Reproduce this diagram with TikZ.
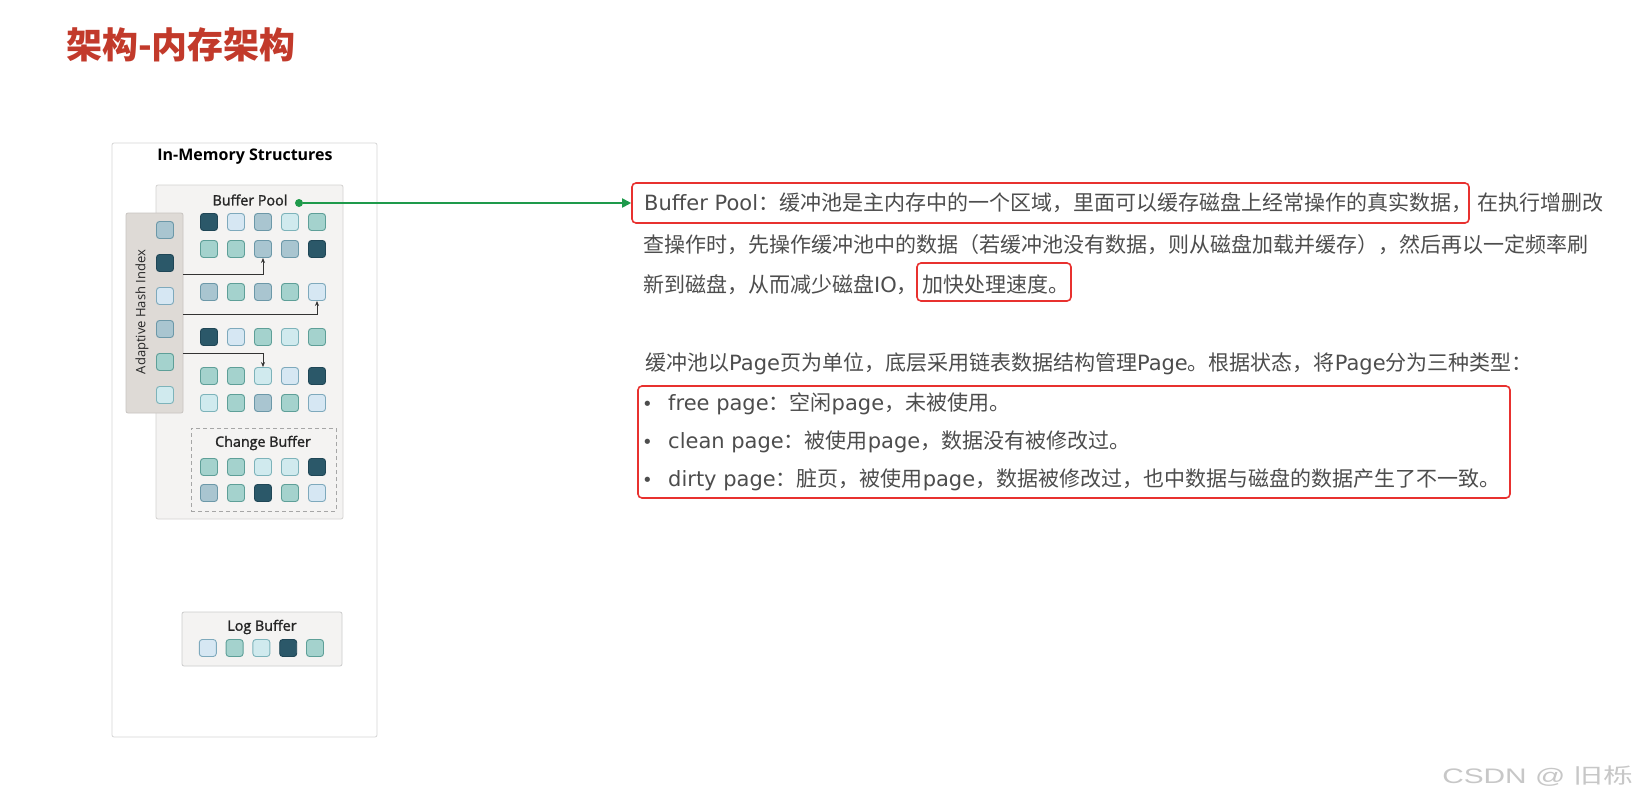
\documentclass[tikz,border=0pt]{standalone}
\usepackage{fontspec}
\newfontfamily\cjk{Noto Sans CJK SC}
\newfontfamily\dvs{DejaVu Sans}
\newfontfamily\osans{Open Sans}
\newfontfamily\osansm[FakeBold=1.5]{Open Sans}
\newfontfamily\lsans{Liberation Sans}
\newcommand\latn[1]{{\dvs #1}}
\usetikzlibrary{arrows.meta}
\definecolor{cD}{HTML}{2B5869}\definecolor{cDb}{HTML}{1F4656}
\definecolor{cL}{HTML}{D6E7F3}\definecolor{cLb}{HTML}{7EA9BC}
\definecolor{cG}{HTML}{A9C5D0}\definecolor{cGb}{HTML}{6C98A8}
\definecolor{cC}{HTML}{D0EAEE}\definecolor{cCb}{HTML}{7DB3BA}
\definecolor{cT}{HTML}{A4D2CD}\definecolor{cTb}{HTML}{5E9F98}
\definecolor{titlered}{HTML}{C23A2B}
\definecolor{boxred}{HTML}{E8312F}
\definecolor{txtgray}{HTML}{4D4D4D}
\definecolor{pgreen}{HTML}{1E9A4B}
\definecolor{outerb}{HTML}{D6D6D6}
\definecolor{bpfill}{HTML}{F4F3F2}
\definecolor{bpline}{HTML}{D4D2D0}
\definecolor{ahifill}{HTML}{DEDAD6}
\tikzset{
  sq/.style={minimum size=17pt, inner sep=0pt, rounded corners=3pt, line width=0.9pt},
  sD/.style={fill=cD, draw=cDb},
  sL/.style={fill=cL, draw=cLb},
  sG/.style={fill=cG, draw=cGb},
  sC/.style={fill=cC, draw=cCb},
  sT/.style={fill=cT, draw=cTb},
  panel/.style={inner sep=0pt, rounded corners=2pt, line width=0.8pt},
  lbl/.style={inner sep=0pt, font=\osansm\fontsize{14.3}{16}\selectfont, text=black!85},
  body/.style={inner sep=0pt, anchor=base west, text=txtgray, font=\cjk\fontsize{21}{24}\selectfont},
  bul/.style={inner sep=0pt, anchor=base west, text=txtgray, font=\dvs\fontsize{18}{20}\selectfont},
  redbox/.style={draw=boxred, line width=1.6pt, rounded corners=4pt, inner sep=0pt},
  hashline/.style={line width=0.7pt, draw=black!80, -{Stealth[length=5pt,width=4pt]}},
}
\begin{document}
\begin{tikzpicture}[x=1pt,y=-1pt]
\useasboundingbox (0,0) rectangle (1639,806);
\fill[white] (0,0) rectangle (1639,806);
% title
\node[inner sep=0pt, anchor=base west, text=titlered, font=\cjk\bfseries\fontsize{36}{39}\selectfont] (title) at (66,58) {架构-内存架构};
% left diagram
\node[panel, draw=outerb, fill=white, minimum width=265pt, minimum height=594pt] (mem) at (244.5,440) {};
\node[inner sep=0pt, font=\osans\bfseries\fontsize{16}{18}\selectfont] (memt) at (245,157) {In-Memory Structures};
\node[panel, draw=bpline, fill=bpfill, minimum width=187pt, minimum height=334pt] (bp) at (249.5,352) {};
\node[lbl] (bpt) at (250,200) {Buffer Pool};
\node[panel, draw=ahifill!90!black, fill=ahifill, minimum width=57pt, minimum height=200pt] (ahi) at (154.5,313) {};
\node[inner sep=0pt, rotate=90, font=\osans\fontsize{13}{15}\selectfont, text=black!85] (ahit) at (142,312) {Adaptive Hash Index};
% hash index squares
\foreach \s [count=\i] in {sG,sD,sL,sG,sT,sC}
  \node[sq,\s] (h\i) at (165,{197+33*\i}) {};
% buffer pool rows
\foreach \s [count=\i] in {sD,sL,sG,sC,sT}
  \node[sq,\s] (bpa-\i) at ({182+27*\i},222) {};
\foreach \s [count=\i] in {sT,sT,sG,sG,sD}
  \node[sq,\s] (bpb-\i) at ({182+27*\i},249) {};
\foreach \s [count=\i] in {sG,sT,sG,sT,sL}
  \node[sq,\s] (bpc-\i) at ({182+27*\i},292) {};
\foreach \s [count=\i] in {sD,sL,sT,sC,sT}
  \node[sq,\s] (bpd-\i) at ({182+27*\i},337) {};
\foreach \s [count=\i] in {sT,sT,sC,sL,sD}
  \node[sq,\s] (bpe-\i) at ({182+27*\i},376) {};
\foreach \s [count=\i] in {sC,sT,sG,sT,sL}
  \node[sq,\s] (bpf-\i) at ({182+27*\i},403) {};
% hash arrows
\coordinate (ha) at (183,274);
\coordinate (hb) at (183,314);
\coordinate (hc) at (183,353);
\draw[hashline] (ha) -| (bpb-3.south);
\draw[hashline] (hb) -| (bpc-5.south);
\draw[hashline] (hc) -| (bpe-3.north);
% change buffer
\node[inner sep=0pt, draw=black!35, dashed, dash pattern=on 4pt off 3pt, line width=0.8pt, minimum width=145pt, minimum height=83pt] (cb) at (263.5,469.5) {};
\node[lbl] (cbt) at (263,443) {Change Buffer};
\foreach \s [count=\i] in {sT,sT,sC,sC,sD}
  \node[sq,\s] (cba-\i) at ({182+27*\i},467) {};
\foreach \s [count=\i] in {sG,sT,sD,sT,sL}
  \node[sq,\s] (cbb-\i) at ({182+27*\i},493) {};
% log buffer
\node[panel, draw=black!20, fill=bpfill, minimum width=160pt, minimum height=54pt] (lb) at (262,639) {};
\node[lbl] (lbt) at (262,627) {Log Buffer};
\foreach \s [count=\i] in {sL,sT,sC,sD,sT}
  \node[sq,\s] (lb-\i) at ({181+26.8*\i},648) {};
% red boxes
\node[redbox, minimum width=837pt, minimum height=40pt] (bx1) at (1050.5,203) {};
\node[redbox, minimum width=154pt, minimum height=38pt] (bx2) at (994,282) {};
\node[redbox, minimum width=872pt, minimum height=112pt] (bx3) at (1074,442) {};
% green connector
\node[circle, fill=pgreen, inner sep=0pt, minimum size=8pt] (dot) at (299,203) {};
\draw[pgreen, line width=1.8pt, -{Triangle[length=9pt,width=9pt]}] (dot) -- (bx1.west);
% right text
\node[body] (l1a) at (644,210) {\latn{Buffer Pool}：缓冲池是主内存中的一个区域，里面可以缓存磁盘上经常操作的真实数据，};
\node[body] (l1b) at (1477,210) {在执行增删改};
\node[body] (l2) at (643,252) {查操作时，先操作缓冲池中的数据（若缓冲池没有数据，则从磁盘加载并缓存），然后再以一定频率刷};
\node[body] (l3a) at (643,292) {新到磁盘，从而减少磁盘\latn{IO}，};
\node[body] (l3b) at (922,292) {加快处理速度。};
\node[body] (p2) at (645,370) {缓冲池以\latn{Page}页为单位，底层采用链表数据结构管理\latn{Page}。根据状态，将\latn{Page}分为三种类型：};
\node[bul] (d1) at (642,410) {•};
\node[body] (b1) at (668,410) {\latn{free page}：空闲\latn{page}，未被使用。};
\node[bul] (d2) at (642,448) {•};
\node[body] (b2) at (668,448) {\latn{clean page}：被使用\latn{page}，数据没有被修改过。};
\node[bul] (d3) at (642,486) {•};
\node[body] (b3) at (668,486) {\latn{dirty page}：脏页，被使用\latn{page}，数据被修改过，也中数据与磁盘的数据产生了不一致。};
% watermark
\node[inner sep=0pt, anchor=base west, xscale=1.42, text=black!22] (wm) at (1442,783) {\lsans\fontsize{21}{24}\selectfont CSDN @ \cjk 旧栎};
\end{tikzpicture}
\end{document}
